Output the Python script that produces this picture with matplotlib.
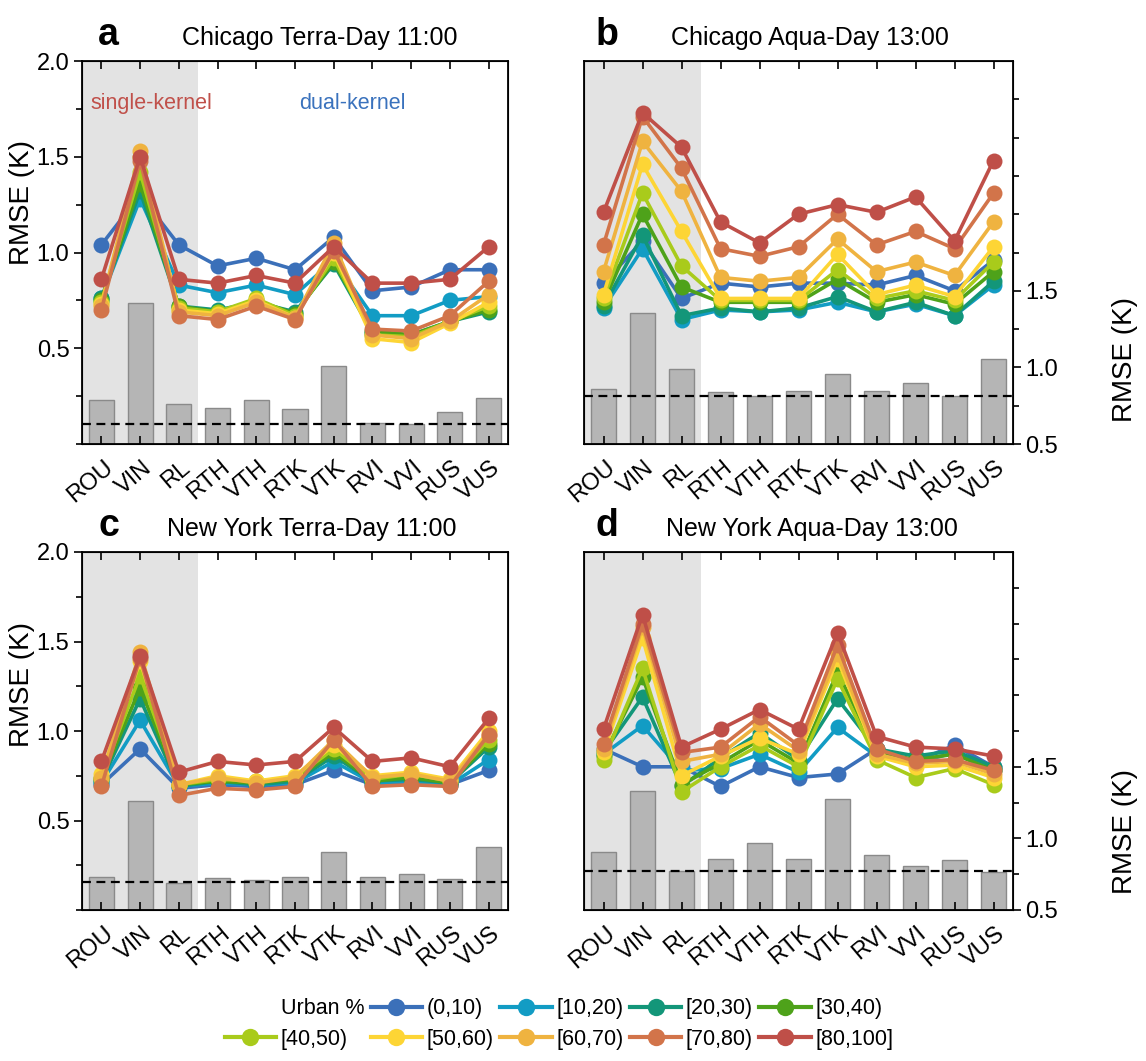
import numpy as np
import matplotlib.pyplot as plt
from matplotlib.lines import Line2D
from matplotlib.transforms import ScaledTranslation

plt.rcParams['font.family'] = ['Liberation Sans', 'DejaVu Sans']

# kernel model names on the x axis
models = ['ROU', 'VIN', 'RL', 'RTH', 'VTH', 'RTK', 'VTK', 'RVI', 'VVI', 'RUS', 'VUS']
groups = ['(0,10)', '[10,20)', '[20,30)', '[30,40)', '[40,50)',
          '[50,60)', '[60,70)', '[70,80)', '[80,100]']
colors = ['#3b70b9', '#129cc4', '#139679', '#4ea21a', '#a9cb1b',
          '#fdd535', '#efb340', '#d2744a', '#bf4f48']

# RMSE per urban-fraction group (left axis), one row per group
chi_terra = [
    [1.04, 1.30, 1.04, 0.93, 0.97, 0.91, 1.08, 0.80, 0.82, 0.91, 0.91],
    [0.76, 1.28, 0.83, 0.79, 0.83, 0.78, 0.96, 0.67, 0.67, 0.75, 0.77],
    [0.76, 1.32, 0.72, 0.70, 0.74, 0.69, 0.94, 0.58, 0.57, 0.64, 0.69],
    [0.75, 1.36, 0.72, 0.69, 0.75, 0.68, 0.95, 0.59, 0.57, 0.64, 0.70],
    [0.74, 1.42, 0.71, 0.69, 0.76, 0.67, 0.97, 0.57, 0.56, 0.64, 0.72],
    [0.73, 1.50, 0.70, 0.68, 0.75, 0.66, 1.00, 0.55, 0.53, 0.63, 0.74],
    [0.72, 1.53, 0.69, 0.67, 0.74, 0.66, 1.05, 0.57, 0.55, 0.64, 0.78],
    [0.70, 1.48, 0.67, 0.65, 0.72, 0.65, 1.01, 0.60, 0.59, 0.67, 0.85],
    [0.86, 1.50, 0.86, 0.84, 0.88, 0.84, 1.03, 0.84, 0.84, 0.86, 1.03],
]
chi_aqua = [
    [0.84, 1.06, 0.76, 0.84, 0.82, 0.84, 0.84, 0.83, 0.88, 0.80, 0.96],
    [0.71, 1.02, 0.65, 0.70, 0.69, 0.70, 0.74, 0.69, 0.73, 0.67, 0.83],
    [0.72, 1.09, 0.67, 0.71, 0.69, 0.71, 0.77, 0.69, 0.74, 0.67, 0.85],
    [0.74, 1.20, 0.82, 0.74, 0.74, 0.74, 0.86, 0.74, 0.78, 0.73, 0.90],
    [0.76, 1.31, 0.93, 0.75, 0.75, 0.75, 0.91, 0.76, 0.80, 0.75, 0.95],
    [0.78, 1.46, 1.11, 0.76, 0.76, 0.76, 0.99, 0.78, 0.83, 0.77, 1.03],
    [0.90, 1.58, 1.32, 0.87, 0.85, 0.87, 1.07, 0.90, 0.95, 0.88, 1.16],
    [1.04, 1.71, 1.44, 1.02, 0.98, 1.03, 1.20, 1.04, 1.11, 1.02, 1.31],
    [1.21, 1.73, 1.55, 1.16, 1.05, 1.20, 1.25, 1.21, 1.29, 1.06, 1.48],
]
ny_terra = [
    [0.70, 0.90, 0.68, 0.70, 0.69, 0.70, 0.78, 0.70, 0.71, 0.70, 0.78],
    [0.71, 1.06, 0.69, 0.71, 0.70, 0.71, 0.83, 0.71, 0.72, 0.70, 0.84],
    [0.72, 1.18, 0.69, 0.72, 0.70, 0.72, 0.86, 0.72, 0.73, 0.71, 0.91],
    [0.73, 1.24, 0.70, 0.72, 0.71, 0.73, 0.88, 0.72, 0.74, 0.71, 0.93],
    [0.74, 1.31, 0.70, 0.73, 0.72, 0.74, 0.90, 0.73, 0.76, 0.72, 0.95],
    [0.76, 1.39, 0.70, 0.75, 0.72, 0.75, 0.92, 0.75, 0.77, 0.73, 1.00],
    [0.74, 1.44, 0.70, 0.74, 0.71, 0.74, 0.95, 0.74, 0.76, 0.72, 0.98],
    [0.69, 1.41, 0.64, 0.68, 0.67, 0.69, 0.95, 0.69, 0.70, 0.69, 0.98],
    [0.83, 1.42, 0.77, 0.83, 0.81, 0.83, 1.02, 0.83, 0.85, 0.80, 1.07],
]
ny_aqua = [
    [0.90, 0.80, 0.80, 0.69, 0.80, 0.74, 0.76, 0.90, 0.83, 0.92, 0.80],
    [0.87, 1.03, 0.78, 0.79, 0.87, 0.77, 1.02, 0.86, 0.82, 0.88, 0.78],
    [0.88, 1.19, 0.69, 0.85, 0.99, 0.84, 1.18, 0.90, 0.86, 0.89, 0.80],
    [0.86, 1.30, 0.70, 0.82, 0.95, 0.82, 1.33, 0.88, 0.84, 0.87, 0.78],
    [0.84, 1.35, 0.66, 0.80, 0.92, 0.80, 1.29, 0.84, 0.74, 0.79, 0.70],
    [0.88, 1.52, 0.75, 0.86, 0.96, 0.87, 1.40, 0.86, 0.80, 0.81, 0.74],
    [0.90, 1.58, 0.83, 0.87, 1.04, 0.89, 1.43, 0.87, 0.82, 0.83, 0.76],
    [0.93, 1.60, 0.88, 0.91, 1.08, 0.92, 1.48, 0.90, 0.83, 0.84, 0.78],
    [1.01, 1.65, 0.91, 1.01, 1.12, 1.01, 1.55, 0.97, 0.91, 0.90, 0.86],
]

# overall RMSE bars (right axis) and dashed reference level
chi_terra_bar = [0.79, 1.42, 0.76, 0.735, 0.79, 0.73, 1.01, 0.64, 0.63, 0.71, 0.80]
chi_aqua_bar = [0.857, 1.353, 0.99, 0.84, 0.813, 0.844, 0.955, 0.848, 0.90, 0.813, 1.053]
ny_terra_bar = [0.733, 1.263, 0.686, 0.726, 0.709, 0.73, 0.907, 0.73, 0.749, 0.719, 0.94]
ny_aqua_bar = [0.903, 1.333, 0.775, 0.854, 0.97, 0.858, 1.273, 0.884, 0.81, 0.847, 0.767]
ref_levels = [0.63, 0.813, 0.696, 0.775]

titles = ['Chicago Terra-Day 11:00', 'Chicago Aqua-Day 13:00',
          'New York Terra-Day 11:00', 'New York Aqua-Day 13:00']
letters = ['a', 'b', 'c', 'd']

W, H = 1146, 1061
fig = plt.figure(figsize=(W / 100, H / 100), dpi=100)

# axes boxes in pixels: left, right, top, bottom
boxes = [(82, 508, 61, 444), (584, 1013, 61, 444),
         (82, 508, 552, 910), (584, 1013, 552, 910)]
title_x = [320, 810, 312, 812]
line_sets = [chi_terra, chi_aqua, ny_terra, ny_aqua]
bar_sets = [chi_terra_bar, chi_aqua_bar, ny_terra_bar, ny_aqua_bar]

x = np.arange(len(models))
shift = ScaledTranslation(9 / 100, 0, fig.dpi_scale_trans)
for k in range(4):
    l, r, t, b = boxes[k]
    ax = fig.add_axes([l / W, 1 - b / H, (r - l) / W, (b - t) / H])
    ax2 = ax.twinx()
    ax.set_zorder(ax2.get_zorder() + 1)
    ax.patch.set_visible(False)

    # bars and shading live on the twin axis (behind the lines)
    ax2.axvspan(-0.5, 2.5, color='#e3e3e3', lw=0, zorder=0)
    ax2.bar(x, np.array(bar_sets[k]) - 0.5, width=0.65, bottom=0.5,
            color='#b5b5b5', edgecolor='#8a8a8a', linewidth=1.0, zorder=2)
    ax2.axhline(ref_levels[k], color='black', ls=(0, (4, 2.5)), lw=1.6, zorder=3)
    ax2.set_ylim(0.5, 3.0)

    for i, vals in enumerate(line_sets[k]):
        ax.plot(x, vals, '-o', color=colors[i], lw=2.6, ms=11.5,
                markeredgewidth=0, zorder=3 + i)

    ax.set_xlim(-0.5, 10.5)
    ax.set_ylim(0, 2.0)
    ax.set_xticks(x)
    ax.set_xticklabels(models, rotation=40, ha='right', va='center',
                       rotation_mode='anchor', fontsize=17)
    ax.tick_params(axis='x', direction='in', length=6, width=1.2,
                   top=True, pad=15)
    for lab in ax.get_xticklabels():
        lab.set_transform(lab.get_transform() + shift)

    for s in ax.spines.values():
        s.set_linewidth(1.3)

    if k in (0, 2):
        ax.set_yticks([0.5, 1.0, 1.5, 2.0])
        ax.set_yticks(np.arange(0, 2.01, 0.25), minor=True)
        ax.tick_params(axis='y', which='major', direction='out', length=6,
                       width=1.2, labelsize=17, pad=3)
        ax.tick_params(axis='y', which='minor', direction='out', length=4,
                       width=1.2)
        ax.set_ylabel('RMSE (K)', fontsize=20)
        ax.yaxis.set_label_coords(-0.11, 0.63)
        ax2.set_yticks([])
        ax2.tick_params(axis='y', which='both', right=False, labelright=False)
    else:
        ax.set_yticks([])
        ax.tick_params(axis='y', which='both', left=False, labelleft=False)
        ax2.set_yticks([0.5, 1.0, 1.5])
        ax2.set_yticks([0.75, 1.25, 1.75, 2.0, 2.25, 2.5, 2.75], minor=True)
        ax2.tick_params(axis='y', which='major', direction='out', length=6,
                        width=1.2, labelsize=17, pad=3)
        ax2.tick_params(axis='y', which='minor', direction='out', length=4,
                        width=1.2)
        ax2.set_ylabel('RMSE (K)', fontsize=20)
        ax2.yaxis.set_label_coords(1.23, 0.22)

    ax.text((title_x[k] - l) / (r - l), 1 + 16 / (b - t), titles[k],
            transform=ax.transAxes, fontsize=18, ha='center', va='baseline')
    ax.text(0.038 if k in (0, 2) else 0.026, 1 + 16 / (b - t), letters[k],
            transform=ax.transAxes, fontsize=27, fontweight='bold',
            ha='left', va='baseline')

    if k == 0:
        ax.text(0.02, 0.89, 'single-kernel', transform=ax.transAxes,
                color='#c0504a', fontsize=15.5, ha='left', va='center')
        ax.text(0.51, 0.89, 'dual-kernel', transform=ax.transAxes,
                color='#3a72bd', fontsize=15.5, ha='left', va='center')

# legend: title entry followed by the nine urban groups, two rows
handles = [Line2D([], [], color='none')]
labels = ['Urban %']
for c, g in zip(colors, groups):
    handles.append(Line2D([], [], color=c, lw=3, marker='o', ms=12.5,
                          markeredgewidth=0))
    labels.append(g)
order = [0, 5, 1, 6, 2, 7, 3, 8, 4, 9]
fig.legend([handles[i] for i in order], [labels[i] for i in order],
           loc='center', bbox_to_anchor=(559 / W, 1 - 1024 / H), ncol=5,
           frameon=False, fontsize=15.5, handlelength=2.4, handletextpad=0.2,
           columnspacing=0.3, labelspacing=0.45)

fig.savefig('out.png', dpi=100)
